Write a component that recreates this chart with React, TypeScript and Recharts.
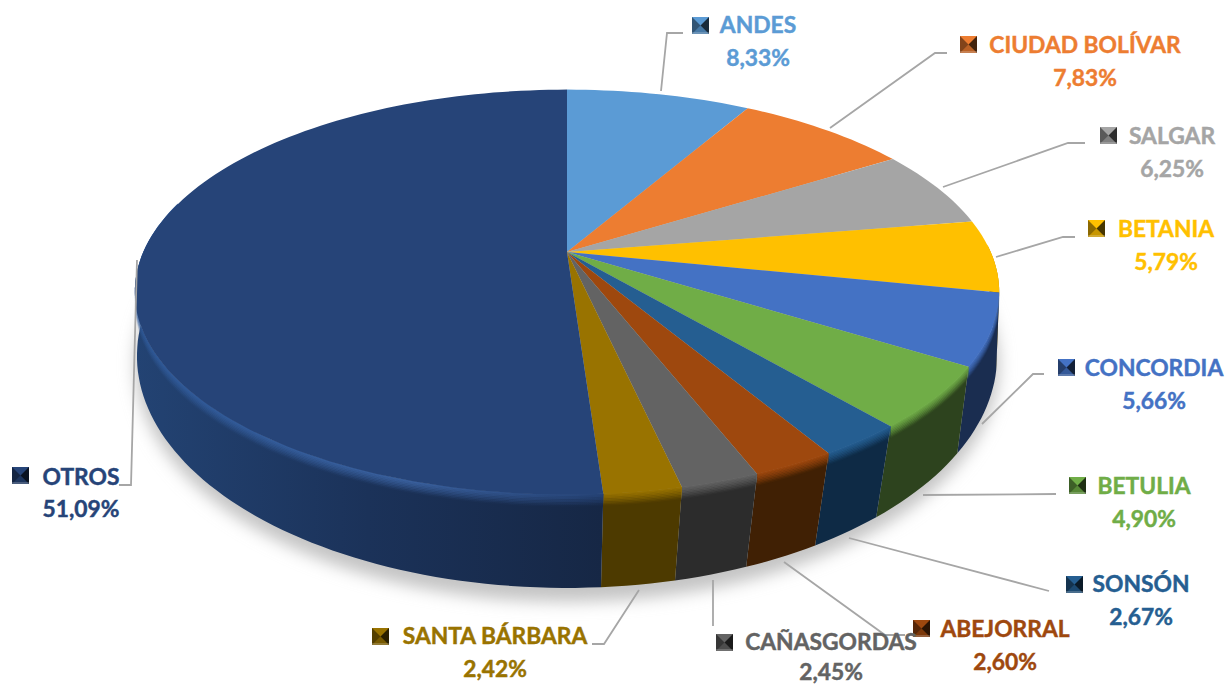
import { PieChart, Pie } from "recharts";

const municipios = ["ANDES", "CIUDAD BOLÍVAR", "SALGAR", "BETANIA", "CONCORDIA", "BETULIA", "SONSÓN", "ABEJORRAL", "CAÑASGORDAS", "SANTA BÁRBARA", "OTROS"];
const porcentajes = [8.33, 7.83, 6.25, 5.79, 5.66, 4.9, 2.67, 2.6, 2.45, 2.42, 51.09];

const topColors = ["#5b9bd5", "#ed7d31", "#a5a5a5", "#ffc000", "#4472c4", "#70ad47", "#255e91", "#9e480e", "#636363", "#997300", "#264478"];
const wallColors = ["#2f5273", "#7a4018", "#555555", "#7f6000", "#1a2d50", "#2d431e", "#0e2a45", "#402004", "#2c2c2c", "#4d3a00", "url(#otrosWall)"];
const rimColors = ["#5b9bd5", "#ed7d31", "#a5a5a5", "#ffc000", "#4472c4", "#70ad47", "#255e91", "#9e480e", "#636363", "#997300", "url(#otrosRim)"];
const textColors = ["#5b9bd5", "#ed7d31", "#a5a5a5", "#ffc000", "#4472c4", "#70ad47", "#255e91", "#9e480e", "#636363", "#997300", "#264478"];

// key x, key y, text centre, name baseline, percent baseline
const labelPos = [
  [692, 17, 758, 33, 66],
  [960, 36, 1085, 53, 86],
  [1100, 127, 1172, 144, 177],
  [1088, 220, 1166, 237, 270],
  [1058, 359, 1154, 376, 409],
  [1069, 477, 1144, 494, 527],
  [1066, 576, 1141, 592, 625],
  [913, 620, 1005, 637, 670],
  [716, 634, 831, 650, 680],
  [372, 628, 495, 644, 677],
  [12, 467, 81, 485, 517],
];

const leaderLines = [
  "661,91 667,33 683,33",
  "830,128 935,53 947,53",
  "943,187 1068,143 1085,143",
  "996,257 1063,237 1075,237",
  "982,424 1033,374 1044,374",
  "923,495 1056,494",
  "849,538 1049,591",
  "784,562 885,635 905,635",
  "713,580 713,626",
  "639,590 604,644 592,644",
  "137,260 131,485 119,485",
];

const pieData = municipios.map((name, i) => ({ name, value: porcentajes[i] }));

// the flat pie angle is pushed through a perspective projection
const TOP = { a: 423.6, b: 194.5, p: -0.198, dy: 0 };
const BOTTOM = { a: 425.8, b: 227.4, p: -0.14, dy: 71.5 };

function project(plane: typeof TOP, cx: number, cy: number, theta: number) {
  const rad = (theta * Math.PI) / 180;
  const u = Math.sin(rad);
  const v = -Math.cos(rad);
  const d = 1 + plane.p * v;
  return [cx + (plane.a * u) / d, cy + plane.dy + (plane.b * v) / d];
}

function sweep(from: number, to: number) {
  const out: number[] = [];
  const n = Math.max(2, Math.ceil((to - from) / 1.5));
  for (let i = 0; i <= n; i++) out.push(from + ((to - from) * i) / n);
  return out;
}

const toPath = (pts: number[][]) => "M" + pts.map((p) => `${p[0].toFixed(1)},${p[1].toFixed(1)}`).join("L") + "Z";

function TopSlice(props: any) {
  const { cx, cy, startAngle, endAngle, index } = props;
  const pts = sweep(90 - startAngle, 90 - endAngle).map((t) => project(TOP, cx, cy, t));
  return <path d={toPath([[cx, cy], ...pts])} fill={topColors[index]} />;
}

function WallSlice(props: any) {
  const { cx, cy, startAngle, endAngle, index } = props;
  const from = Math.max(90 - startAngle, 88);
  const to = Math.min(90 - endAngle, 285);
  if (to <= from) return <g />;
  const thetas = sweep(from, to);
  const upper = thetas.map((t) => project(TOP, cx, cy, t));
  const lower = thetas.map((t) => project(BOTTOM, cx, cy, t)).reverse();
  const steps = [0, 1, 2, 3, 4, 5, 6, 7];
  return (
    <g>
      <path d={toPath([...upper, ...lower])} fill={wallColors[index]} />
      {steps.map((k) => {
        const h0 = (k * 12) / steps.length;
        const h1 = ((k + 1) * 12) / steps.length;
        const band = [
          ...upper.map((p) => [p[0], p[1] + h0 - 0.5]),
          ...upper.map((p) => [p[0], p[1] + h1]).reverse(),
        ];
        return <path key={k} d={toPath(band)} fill={rimColors[index]} fillOpacity={1 - (k + 0.5) / steps.length} />;
      })}
    </g>
  );
}

function KeyMarker({ x, y, color }: { x: number; y: number; color: string }) {
  const s = 17;
  const mx = x + s / 2;
  const my = y + s / 2;
  return (
    <g>
      <rect x={x} y={y} width={s} height={s} fill={color} />
      <polygon points={`${x},${y} ${mx},${my} ${x},${y + s}`} fill="#000" fillOpacity={0.45} />
      <polygon points={`${x + s},${y} ${mx},${my} ${x + s},${y + s}`} fill="#000" fillOpacity={0.72} />
      <polygon points={`${x},${y + s} ${mx},${my} ${x + s},${y + s}`} fill="#000" fillOpacity={0.22} />
      <rect x={x} y={y + s - 2} width={s} height={2} fill="#fff" fillOpacity={0.2} />
    </g>
  );
}

function renderLabel(props: any) {
  const { index, name, value } = props;
  const [kx, ky, tx, y1, y2] = labelPos[index];
  const color = textColors[index];
  const pct = value.toFixed(2).replace(".", ",") + "%";
  const textStyle = { fontFamily: "Lato", fontWeight: 700, fontSize: 22.8, stroke: color, strokeWidth: 0.45 };
  return (
    <g key={name}>
      <polyline points={leaderLines[index]} fill="none" stroke="#a6a6a6" strokeWidth={1.8} />
      <KeyMarker x={kx} y={ky} color={color} />
      <text x={tx} y={y1} textAnchor="middle" fill={color} style={textStyle}>
        {name}
      </text>
      <text x={tx} y={y2} textAnchor="middle" fill={color} style={textStyle}>
        {pct}
      </text>
    </g>
  );
}

export default function App() {
  return (
    <div style={{ position: "absolute", left: 0, top: 0, width: 1226, height: 685, background: "#fff" }}>
      <PieChart width={1226} height={685} margin={{ top: 0, right: 0, bottom: 0, left: 0 }}>
        <defs>
          <linearGradient id="otrosWall" gradientUnits="userSpaceOnUse" x1="135" y1="0" x2="602" y2="0">
            <stop offset="0" stopColor="#234373" />
            <stop offset="0.5" stopColor="#1b3259" />
            <stop offset="1" stopColor="#162745" />
          </linearGradient>
          <linearGradient id="otrosRim" gradientUnits="userSpaceOnUse" x1="135" y1="0" x2="602" y2="0">
            <stop offset="0" stopColor="#2f5a9a" />
            <stop offset="0.6" stopColor="#3a619f" />
            <stop offset="1" stopColor="#264478" />
          </linearGradient>
          <filter id="floorShadow" x="-10%" y="-10%" width="120%" height="125%">
            <feGaussianBlur stdDeviation="8" />
          </filter>
        </defs>
        <ellipse cx={567} cy={364} rx={432} ry={238} fill="#c4c4c4" filter="url(#floorShadow)" />
        <Pie
          data={pieData}
          dataKey="value"
          nameKey="name"
          cx={567}
          cy={252}
          outerRadius={160}
          startAngle={90}
          endAngle={-270}
          stroke="none"
          isAnimationActive={false}
          shape={WallSlice}
        />
        <Pie
          data={pieData}
          dataKey="value"
          nameKey="name"
          cx={567}
          cy={252}
          outerRadius={160}
          startAngle={90}
          endAngle={-270}
          stroke="none"
          isAnimationActive={false}
          shape={TopSlice}
          label={renderLabel}
          labelLine={false}
        />
      </PieChart>
    </div>
  );
}
